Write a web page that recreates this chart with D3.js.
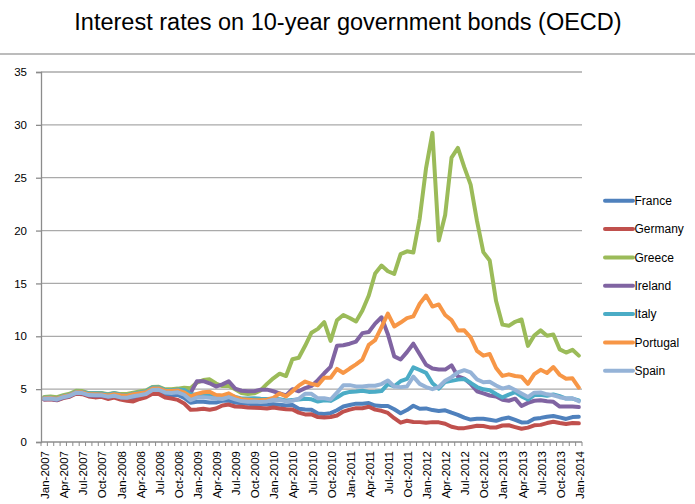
<!DOCTYPE html>
<html>
<head>
<meta charset="utf-8">
<script src="https://cdn.jsdelivr.net/npm/d3@7"></script>
<style>
  html, body { margin: 0; padding: 0; background: #fff; }
  svg { display: block; }
  text { font-family: "Liberation Sans", Arial, sans-serif; fill: #000; }
</style>
</head>
<body>
<div id="chart"></div>
<script>
// ---- DATA ----
const categories = [
  "Jan-2007","Feb-2007","Mar-2007","Apr-2007","May-2007","Jun-2007","Jul-2007","Aug-2007","Sep-2007","Oct-2007","Nov-2007","Dec-2007",
  "Jan-2008","Feb-2008","Mar-2008","Apr-2008","May-2008","Jun-2008","Jul-2008","Aug-2008","Sep-2008","Oct-2008","Nov-2008","Dec-2008",
  "Jan-2009","Feb-2009","Mar-2009","Apr-2009","May-2009","Jun-2009","Jul-2009","Aug-2009","Sep-2009","Oct-2009","Nov-2009","Dec-2009",
  "Jan-2010","Feb-2010","Mar-2010","Apr-2010","May-2010","Jun-2010","Jul-2010","Aug-2010","Sep-2010","Oct-2010","Nov-2010","Dec-2010",
  "Jan-2011","Feb-2011","Mar-2011","Apr-2011","May-2011","Jun-2011","Jul-2011","Aug-2011","Sep-2011","Oct-2011","Nov-2011","Dec-2011",
  "Jan-2012","Feb-2012","Mar-2012","Apr-2012","May-2012","Jun-2012","Jul-2012","Aug-2012","Sep-2012","Oct-2012","Nov-2012","Dec-2012",
  "Jan-2013","Feb-2013","Mar-2013","Apr-2013","May-2013","Jun-2013","Jul-2013","Aug-2013","Sep-2013","Oct-2013","Nov-2013","Dec-2013",
  "Jan-2014"
];
const tickLabels = [
  "Jan-2007","Apr-2007","Jul-2007","Oct-2007","Jan-2008","Apr-2008","Jul-2008","Oct-2008",
  "Jan-2009","Apr-2009","Jul-2009","Oct-2009","Jan-2010","Apr-2010","Jul-2010","Oct-2010",
  "Jan-2011","Apr-2011","Jul-2011","Oct-2011","Jan-2012","Apr-2012","Jul-2012","Oct-2012",
  "Jan-2013","Apr-2013","Jul-2013","Oct-2013","Jan-2014"
];
const yTicks = [0, 5, 10, 15, 20, 25, 30, 35];

const france = [
  4.10,4.13,4.04,4.24,4.37,4.64,4.62,4.42,4.38,4.39,4.24,4.36,
  4.19,4.11,4.08,4.29,4.43,4.79,4.78,4.45,4.44,4.45,4.17,3.71,
  3.80,3.81,3.74,3.73,3.90,3.91,3.73,3.66,3.62,3.56,3.59,3.55,
  3.56,3.52,3.46,3.50,3.14,3.07,3.05,2.70,2.65,2.73,3.00,3.36,
  3.50,3.63,3.62,3.68,3.45,3.41,3.41,3.10,2.72,3.02,3.43,3.15,
  3.18,3.02,2.94,3.00,2.77,2.57,2.30,2.12,2.19,2.19,2.11,2.00,
  2.20,2.31,2.09,1.85,1.86,2.19,2.28,2.39,2.46,2.33,2.18,2.36,
  2.39
];
const germany = [
  4.02,4.05,3.94,4.15,4.28,4.56,4.52,4.31,4.22,4.27,4.07,4.21,
  4.02,3.90,3.84,4.07,4.22,4.57,4.54,4.20,4.12,3.98,3.64,3.05,
  3.07,3.14,3.05,3.17,3.45,3.54,3.36,3.33,3.26,3.24,3.22,3.16,
  3.26,3.16,3.09,3.07,2.78,2.61,2.62,2.36,2.31,2.36,2.51,2.88,
  3.06,3.20,3.20,3.33,3.06,2.95,2.75,2.25,1.83,2.01,1.90,1.88,
  1.83,1.88,1.86,1.73,1.44,1.31,1.31,1.42,1.54,1.51,1.38,1.37,
  1.56,1.58,1.41,1.25,1.36,1.58,1.62,1.79,1.92,1.80,1.71,1.80,
  1.77
];
const greece = [
  4.26,4.30,4.24,4.43,4.56,4.84,4.82,4.63,4.64,4.64,4.51,4.64,
  4.53,4.54,4.66,4.77,4.87,5.21,5.22,4.98,4.99,5.05,5.14,5.08,
  5.62,5.86,5.93,5.53,5.29,5.30,4.98,4.63,4.55,4.60,4.88,5.49,
  6.02,6.46,6.24,7.83,7.97,9.10,10.34,10.70,11.34,9.57,11.52,12.01,
  11.73,11.40,12.44,13.86,15.94,16.69,16.15,15.90,17.78,18.04,17.92,21.14,
  25.91,29.24,19.07,21.48,26.90,27.82,26.00,24.34,20.91,17.96,17.17,13.33,
  11.10,10.99,11.37,11.59,9.09,10.07,10.56,10.05,10.17,8.76,8.46,8.72,
  8.17
];
const ireland = [
  4.03,4.07,3.97,4.20,4.33,4.63,4.61,4.40,4.38,4.40,4.27,4.37,
  4.22,4.20,4.28,4.44,4.58,4.97,5.06,4.76,4.86,4.74,4.83,4.64,
  5.75,5.75,5.55,5.25,5.45,5.75,5.05,4.85,4.80,4.80,4.95,4.95,
  4.80,4.60,4.40,5.00,4.80,5.10,5.30,5.85,6.50,7.10,9.10,9.15,
  9.30,9.50,10.30,10.40,11.20,11.80,10.20,8.10,7.80,8.50,9.30,8.30,
  7.30,6.95,6.85,6.85,7.25,6.20,6.00,5.50,4.80,4.60,4.40,4.30,
  4.00,3.90,4.10,3.40,3.70,3.90,3.95,3.85,3.80,3.35,3.35,3.35,
  3.30
];
const italy = [
  4.18,4.19,4.13,4.33,4.47,4.76,4.74,4.59,4.60,4.58,4.48,4.61,
  4.48,4.42,4.56,4.68,4.78,5.16,5.16,4.91,4.88,4.96,4.92,4.52,
  4.46,4.48,4.45,4.39,4.35,4.46,4.26,4.12,4.11,4.14,4.09,4.07,
  4.08,4.04,3.93,3.98,4.03,4.10,4.04,3.83,3.94,3.89,4.21,4.59,
  4.74,4.77,4.85,4.74,4.75,4.82,5.48,5.27,5.75,5.97,7.06,6.81,
  6.54,5.55,5.05,5.68,5.78,5.90,5.95,5.60,5.20,4.98,4.90,4.55,
  4.22,4.48,4.71,4.31,4.02,4.44,4.46,4.37,4.50,4.33,4.11,4.11,
  3.93
];
const portugal = [
  4.15,4.17,4.10,4.30,4.42,4.71,4.70,4.51,4.51,4.49,4.41,4.51,
  4.42,4.38,4.53,4.61,4.70,5.05,5.07,4.83,4.82,4.87,4.69,4.30,
  4.55,4.70,4.75,4.45,4.40,4.60,4.25,4.05,4.00,3.95,3.95,4.00,
  4.17,4.59,4.31,4.80,5.33,5.72,5.50,5.37,6.08,6.08,6.91,6.53,
  6.95,7.34,7.80,9.19,9.63,10.87,12.15,10.93,11.30,11.72,11.89,13.08,
  13.85,12.81,13.01,12.01,11.53,10.55,10.56,9.89,8.62,8.17,8.32,7.00,
  6.25,6.40,6.24,6.18,5.50,6.42,6.83,6.53,7.09,6.35,5.98,6.02,
  5.15
];
const spain = [
  4.08,4.11,4.03,4.24,4.37,4.65,4.63,4.44,4.42,4.42,4.29,4.38,
  4.22,4.19,4.33,4.42,4.54,4.92,4.94,4.69,4.64,4.70,4.47,3.96,
  4.20,4.24,4.19,4.12,4.07,4.25,4.03,3.87,3.80,3.82,3.79,3.84,
  4.00,3.97,3.84,3.90,4.09,4.56,4.56,4.13,4.13,4.02,4.66,5.37,
  5.38,5.26,5.25,5.33,5.32,5.48,5.82,5.25,5.19,5.25,6.19,5.50,
  5.20,5.00,5.20,5.79,6.13,6.59,6.79,6.58,5.92,5.65,5.69,5.34,
  5.05,5.22,4.92,4.59,4.25,4.67,4.68,4.51,4.42,4.24,4.11,4.14,
  3.85
];

const seriesNames = ["France","Germany","Greece","Ireland","Italy","Portugal","Spain"];
const seriesColors = ["#4F81BD","#C0504D","#9BBB59","#8064A2","#4BACC6","#F79646","#95B3D7"];
const seriesValues = [france, germany, greece, ireland, italy, portugal, spain];

// ---- LAYOUT ----
const W = 695, H = 504;
const plot = { left: 41, right: 582, top: 72, bottom: 442 };

const svg = d3.select("#chart").append("svg")
  .attr("width", W).attr("height", H);

// Title
svg.append("text")
  .attr("x", 348).attr("y", 30)
  .attr("text-anchor", "middle")
  .style("font-size", "23.5px")
  .text("Interest rates on 10-year government bonds (OECD)");

// Separator line under the title
svg.append("line")
  .attr("x1", 0).attr("x2", W)
  .attr("y1", 54).attr("y2", 54)
  .attr("stroke", "#a6a6a6").attr("stroke-width", 1.5);

const x = d3.scaleBand().domain(categories)
  .range([plot.left, plot.right]).paddingInner(0).paddingOuter(0);
const xc = d => x(d) + x.bandwidth() / 2;
const y = d3.scaleLinear().domain([0, 35]).range([plot.bottom, plot.top]);

// Gridlines
svg.append("g").selectAll("line").data(yTicks.filter(t => t > 0)).join("line")
  .attr("x1", plot.left).attr("x2", plot.right)
  .attr("y1", d => y(d)).attr("y2", d => y(d))
  .attr("stroke", "#aaaaaa").attr("stroke-width", 1.3);

// Y axis
const yAxis = d3.axisLeft(y).tickValues(yTicks).tickSize(5).tickPadding(9).tickFormat(d3.format("d"));
const gy = svg.append("g").attr("transform", `translate(${plot.left},0)`).call(yAxis);
gy.select(".domain").attr("stroke", "#8c8c8c").attr("stroke-width", 1.3);
gy.selectAll(".tick line").attr("stroke", "#8c8c8c").attr("stroke-width", 1.3);
gy.selectAll(".tick text").style("font-size", "11.5px")
  .style("font-family", '"Liberation Sans", Arial, sans-serif').attr("fill", "#000");

// X axis line
svg.append("line")
  .attr("x1", plot.left).attr("x2", plot.right)
  .attr("y1", plot.bottom).attr("y2", plot.bottom)
  .attr("stroke", "#8c8c8c").attr("stroke-width", 1.3);

// X tick marks at category boundaries
const boundaries = categories.map(c => x(c)).concat([plot.right]);
svg.append("g").selectAll("line").data(boundaries).join("line")
  .attr("x1", d => d).attr("x2", d => d)
  .attr("y1", plot.bottom).attr("y2", plot.bottom + 4)
  .attr("stroke", "#8c8c8c").attr("stroke-width", 1);

// X labels (rotated)
svg.append("g").selectAll("text").data(tickLabels).join("text")
  .attr("transform", d => `translate(${xc(d) + 1},${plot.bottom + 9}) rotate(-90)`)
  .attr("text-anchor", "end")
  .attr("dy", "0.35em")
  .style("font-size", "11.5px")
  .text(d => d);

// Lines
const line = d3.line()
  .x((d, i) => xc(categories[i]))
  .y(d => y(d));

svg.append("g").selectAll("path").data(seriesValues).join("path")
  .attr("d", d => line(d))
  .attr("fill", "none")
  .attr("stroke", (d, i) => seriesColors[i])
  .attr("stroke-width", 4)
  .attr("stroke-linejoin", "round")
  .attr("stroke-linecap", "round");

// Legend
const legend = svg.append("g").selectAll("g").data(seriesNames).join("g")
  .attr("transform", (d, i) => `translate(605,${200.7 + i * 28.35})`);
legend.append("line")
  .attr("x1", 0).attr("x2", 28).attr("y1", 0).attr("y2", 0)
  .attr("stroke", (d, i) => seriesColors[i])
  .attr("stroke-width", 4).attr("stroke-linecap", "round");
legend.append("text")
  .attr("x", 29.5).attr("y", 0).attr("dy", "0.36em")
  .style("font-size", "12px")
  .text(d => d);
</script>
</body>
</html>
